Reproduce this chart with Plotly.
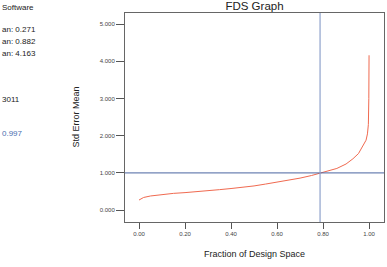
import plotly.graph_objects as go

# Data
fraction = [0.000, 0.010, 0.020, 0.050, 0.100, 0.150, 0.200, 0.250, 0.300, 0.350,
            0.400, 0.450, 0.500, 0.550, 0.600, 0.650, 0.700, 0.750, 0.787, 0.820,
            0.860, 0.900, 0.930, 0.954, 0.970, 0.987, 0.993, 0.997, 0.999, 1.000]
std_err = [0.271, 0.310, 0.340, 0.380, 0.420, 0.450, 0.470, 0.490, 0.520, 0.550,
           0.580, 0.610, 0.650, 0.700, 0.750, 0.800, 0.860, 0.930, 1.000, 1.060,
           1.120, 1.240, 1.380, 1.520, 1.680, 1.880, 2.050, 2.300, 3.000, 4.163]
ref_fraction = 0.787
ref_std_err = 1.0
x_ticks = [0, 0.2, 0.4, 0.6, 0.8, 1.0]
y_ticks = [0, 1, 2, 3, 4, 5]
side_texts = ["Software", "an: 0.271", "an: 0.882", "an: 4.163", "3011", "0.997"]
side_rows = [7, 30, 42, 53, 99, 133]
side_colors = ["#222", "#222", "#222", "#222", "#222", "#4a6fb0"]

W, H = 387, 267
L, R, T, B = 125, 3, 13, 45
pw, ph = W - L - R, H - T - B

fig = go.Figure()
fig.add_trace(go.Scatter(x=fraction, y=std_err, mode="lines",
                         line=dict(color="#f06a50", width=1), showlegend=False))
fig.add_hline(y=ref_std_err, line=dict(color="#4a64a0", width=1))
fig.add_vline(x=ref_fraction, line=dict(color="#8ea2cc", width=1.2))

font = "Liberation Sans, Arial, sans-serif"
fig.update_layout(
    width=W, height=H,
    margin=dict(l=L, r=R, t=T, b=B),
    paper_bgcolor="white", plot_bgcolor="white",
    title=dict(text="FDS Graph", x=(L + pw / 2) / W, xanchor="center",
               y=1 - 6 / H, yanchor="middle",
               font=dict(family=font, size=11.5, color="#222")),
    xaxis=dict(range=[-0.061, 1.065], tickvals=x_ticks, tickformat=".2f",
               showgrid=False, zeroline=False, showline=True, linecolor="#666",
               linewidth=1, mirror=True, ticks="outside", ticklen=6, tickcolor="#555",
               tickfont=dict(family=font, size=6, color="#444")),
    yaxis=dict(range=[-0.32, 5.3], tickvals=y_ticks, tickformat=".3f",
               showgrid=False, zeroline=False, showline=True, linecolor="#666",
               linewidth=1, mirror=True, ticks="outside", ticklen=8, tickcolor="#555",
               tickfont=dict(family=font, size=6, color="#444")),
)

annotations = [
    dict(text="Std Error Mean", textangle=-90, xref="paper", yref="paper",
         x=(75 - L) / pw, y=0.5, xanchor="center", yanchor="middle", showarrow=False,
         font=dict(family=font, size=9, color="#222")),
    dict(text="Fraction of Design Space", xref="paper", yref="paper",
         x=0.5, y=(H - B - 254) / ph, xanchor="center", yanchor="middle", showarrow=False,
         font=dict(family=font, size=9, color="#222")),
]
for txt, row, col in zip(side_texts, side_rows, side_colors):
    annotations.append(dict(text=txt, xref="paper", yref="paper",
                            x=(0 - L) / pw, y=(H - B - row) / ph,
                            xanchor="left", yanchor="middle", showarrow=False,
                            font=dict(family=font, size=8, color=col)))
fig.update_layout(annotations=annotations)

fig.write_html("out.html")
